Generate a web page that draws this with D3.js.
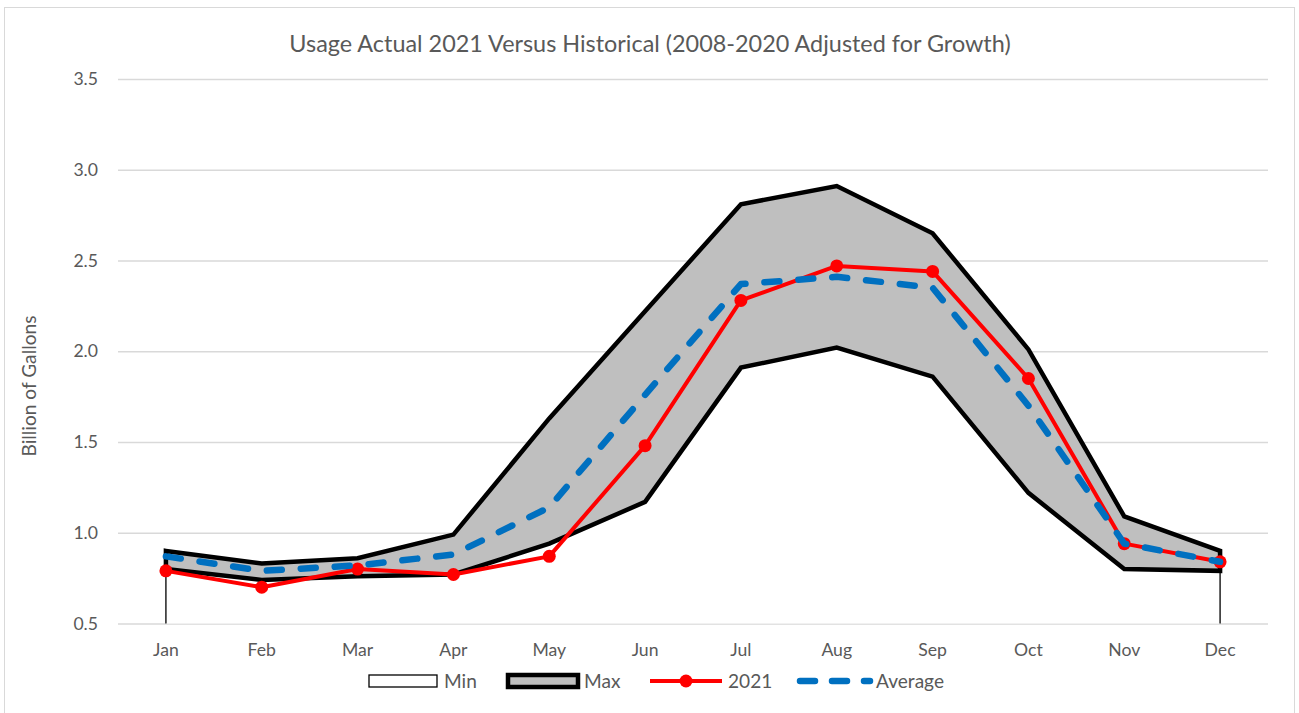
<!DOCTYPE html>
<html>
<head>
<meta charset="utf-8">
<script src="https://cdn.jsdelivr.net/npm/d3@7"></script>
<style>
  body { margin: 0; background: #fff; }
  text { font-family: Lato, "Open Sans", sans-serif; fill: #595959; }
</style>
</head>
<body>
<svg id="chart" width="1299" height="713"></svg>
<script>
const months = ["Jan", "Feb", "Mar", "Apr", "May", "Jun", "Jul", "Aug", "Sep", "Oct", "Nov", "Dec"];
const minValues = [0.80, 0.74, 0.76, 0.77, 0.94, 1.17, 1.91, 2.02, 1.86, 1.22, 0.80, 0.79];
const maxValues = [0.90, 0.83, 0.86, 0.99, 1.63, 2.22, 2.81, 2.91, 2.65, 2.01, 1.09, 0.90];
const actual2021 = [0.79, 0.70, 0.80, 0.77, 0.87, 1.48, 2.28, 2.47, 2.44, 1.85, 0.94, 0.84];
const average = [0.87, 0.79, 0.82, 0.88, 1.14, 1.76, 2.37, 2.41, 2.35, 1.70, 0.94, 0.84];
const yTicks = [0.5, 1.0, 1.5, 2.0, 2.5, 3.0, 3.5];

const svg = d3.select("#chart");

// font size so that a sample string gets a given width
function fitSize(sample, width) {
    const t = svg.append("text").attr("font-size", 20).text(sample);
    const w = t.node().getComputedTextLength();
    t.remove();
    return 20 * width / w;
}
const tickSize = fitSize("Dec", 31);
const legendSize = fitSize("Average", 68);

// outer chart border
svg.append("rect")
    .attr("x", 4.5).attr("y", 7.5)
    .attr("width", 1290).attr("height", 712)
    .attr("fill", "none").attr("stroke", "#d9d9d9");

const plotLeft = 118, plotRight = 1268, plotTop = 79, plotBottom = 623.5;

const x = d3.scaleBand().domain(months).range([plotLeft, plotRight]);
const cx = m => x(m) + x.bandwidth() / 2;
const y = d3.scaleLinear().domain([0.5, 3.5]).range([plotBottom, plotTop]);

// gridlines + y labels
const yAxis = svg.append("g")
    .attr("transform", `translate(${plotLeft},0)`)
    .call(d3.axisLeft(y).tickValues(yTicks).tickFormat(d3.format(".1f"))
        .tickSize(-(plotRight - plotLeft)).tickPadding(20));
yAxis.select(".domain").remove();
yAxis.selectAll("line").attr("stroke", "#d9d9d9").attr("stroke-width", 1.3);
yAxis.selectAll("text").attr("font-size", tickSize).style("font-family", "Lato, sans-serif").attr("fill", "#595959");

// x labels
const xAxis = svg.append("g")
    .attr("transform", `translate(0,${plotBottom})`)
    .call(d3.axisBottom(x).tickSize(0).tickPadding(20));
xAxis.select(".domain").remove();
xAxis.selectAll("text").attr("font-size", tickSize).style("font-family", "Lato, sans-serif").attr("fill", "#595959");

// Min area (white, thin outline)
const minPts = [[cx(months[0]), y(0.5)]]
    .concat(months.map((m, i) => [cx(m), y(minValues[i])]))
    .concat([[cx(months[11]), y(0.5)]]);
svg.append("path")
    .attr("d", d3.line()(minPts))
    .attr("fill", "#fff").attr("stroke", "#000").attr("stroke-width", 1.3);

// Max band (gray, thick outline)
const band = d3.area()
    .x((d, i) => cx(months[i]))
    .y0((d, i) => y(minValues[i]))
    .y1(d => y(d));
svg.append("path")
    .attr("d", band(maxValues))
    .attr("fill", "#bfbfbf").attr("stroke", "#000")
    .attr("stroke-width", 4.5).attr("stroke-linejoin", "miter");

// 2021 line
const line = d3.line().x((d, i) => cx(months[i])).y(d => y(d));
svg.append("path")
    .attr("d", line(actual2021))
    .attr("fill", "none").attr("stroke", "#ff0000").attr("stroke-width", 4)
    .attr("stroke-linejoin", "round");
svg.selectAll(".dot").data(actual2021).join("circle")
    .attr("class", "dot")
    .attr("cx", (d, i) => cx(months[i])).attr("cy", d => y(d))
    .attr("r", 6.5).attr("fill", "#ff0000");

// Average line
svg.append("path")
    .attr("d", line(average))
    .attr("fill", "none").attr("stroke", "#0070c0").attr("stroke-width", 6.5)
    .attr("stroke-linecap", "round").attr("stroke-linejoin", "round")
    .attr("stroke-dasharray", "15 19");

// title
const titleText = "Usage Actual 2021 Versus Historical (2008-2020 Adjusted for Growth)";
svg.append("text")
    .attr("x", 650).attr("y", 52).attr("text-anchor", "middle")
    .attr("font-size", fitSize(titleText, 722))
    .text(titleText);

// y axis title
svg.append("text")
    .attr("transform", "translate(36,386) rotate(-90)")
    .attr("text-anchor", "middle").attr("font-size", fitSize("Billion of Gallons", 141))
    .text("Billion of Gallons");

// legend
const ly = 681;
const legend = svg.append("g");
legend.append("rect").attr("x", 369).attr("y", ly - 6).attr("width", 68).attr("height", 12)
    .attr("fill", "#fff").attr("stroke", "#000").attr("stroke-width", 1.3);
legend.append("rect").attr("x", 508).attr("y", ly - 6).attr("width", 70).attr("height", 12)
    .attr("fill", "#bfbfbf").attr("stroke", "#000").attr("stroke-width", 4.5);
legend.append("line").attr("x1", 650).attr("x2", 722).attr("y1", ly).attr("y2", ly)
    .attr("stroke", "#ff0000").attr("stroke-width", 4);
legend.append("circle").attr("cx", 686).attr("cy", ly).attr("r", 6.5).attr("fill", "#ff0000");
legend.append("line").attr("x1", 800).attr("x2", 870).attr("y1", ly).attr("y2", ly)
    .attr("stroke", "#0070c0").attr("stroke-width", 6.5)
    .attr("stroke-linecap", "round").attr("stroke-dasharray", "15 17");
legend.selectAll(".ltext")
    .data([["Min", 444], ["Max", 584], ["2021", 728], ["Average", 876]])
    .join("text")
    .attr("class", "ltext")
    .attr("x", d => d[1]).attr("y", ly + 6.5)
    .attr("font-size", legendSize)
    .text(d => d[0]);
</script>
</body>
</html>
